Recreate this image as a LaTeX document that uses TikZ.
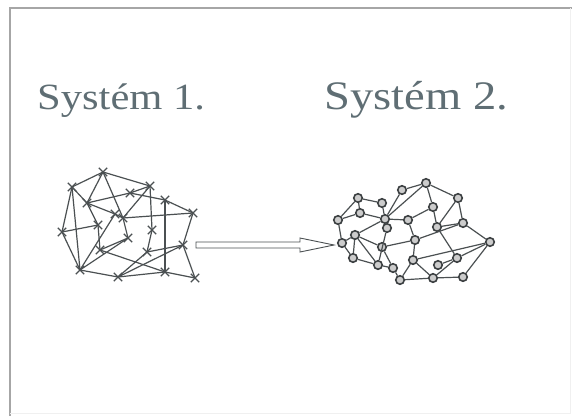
\documentclass[tikz,border=0pt]{standalone}
\usepackage{fontspec}
\usetikzlibrary{shapes.misc,calc}
\newfontfamily\titlefont[FakeStretch=1.15]{Liberation Serif}
\definecolor{titlegray}{RGB}{95,110,116}
\definecolor{linegray}{RGB}{75,80,82}
\tikzset{
  xnode/.style={cross out, draw=linegray, line width=1.3pt, minimum size=7pt, inner sep=0pt},
  onode/.style={circle, draw=linegray!80!black, fill=gray!40, line width=1.6pt, minimum size=8.5pt, inner sep=0pt},
  meshline/.style={linegray, line width=1.2pt},
  title/.style={anchor=base west, text=titlegray, inner sep=0pt}
}
\begin{document}
\begin{tikzpicture}[x=1pt,y=-1pt]
\useasboundingbox (0,0) rectangle (572,416);

\coordinate (tl) at (10,8);
\coordinate (tr) at (572,8);
\coordinate (bl) at (10,416);
\draw[gray!70, line width=1.2pt] (bl) -- (tl) -- (tr);
\draw[gray!12, line width=0.8pt] (10,413) -- (570,413) -- (570,8);

\node[title, font=\titlefont\fontsize{37}{40}\selectfont] (sys1) at (37,109.5) {Systém 1.};
\node[title, font=\titlefont\fontsize{40.5}{44}\selectfont] (sys2) at (324,109.5) {Systém 2.};

\node[xnode] (a1) at (103,172) {};
\node[xnode] (a2) at (72,187) {};
\node[xnode] (a3) at (87,203) {};
\node[xnode] (a4) at (130,193) {};
\node[xnode] (a5) at (150,186) {};
\node[xnode] (a6) at (165,200) {};
\node[xnode] (a7) at (193,213) {};
\node[xnode] (a8) at (115,214) {};
\node[xnode] (a9) at (123,218) {};
\node[xnode] (a10) at (98,225) {};
\node[xnode] (a11) at (62,232) {};
\node[xnode] (a12) at (152,230) {};
\node[xnode] (a13) at (128,238) {};
\node[xnode] (a14) at (183,245) {};
\node[xnode] (a15) at (100,250) {};
\node[xnode] (a16) at (147,252) {};
\node[xnode] (a17) at (80,270) {};
\node[xnode] (a18) at (118,277) {};
\node[xnode] (a19) at (165,272) {};
\node[xnode] (a20) at (195,278) {};

\foreach \u/\v in {a1/a2,a1/a5,a1/a3,a1/a9,a2/a3,a2/a11,a2/a17,a3/a4,a3/a8,a3/a10,
  a4/a5,a4/a6,a5/a9,a5/a12,a6/a7,a6/a19,a9/a7,a7/a14,a14/a20,a10/a11,
  a11/a17,a9/a13,a13/a17,a13/a15,a15/a19,a12/a16,a16/a18,a16/a14,a14/a18,
  a17/a18,a18/a19,a19/a20,a8/a17,a8/a9,a15/a10}
  \draw[meshline] (\u.center) -- (\v.center);

\node[onode] (b1) at (426,183) {};
\node[onode] (b2) at (402,190) {};
\node[onode] (b3) at (458,198) {};
\node[onode] (b4) at (358,198) {};
\node[onode] (b5) at (382,203) {};
\node[onode] (b6) at (433,207) {};
\node[onode] (b7) at (360,213) {};
\node[onode] (b8) at (408,220) {};
\node[onode] (b9) at (385,219) {};
\node[onode] (b10) at (387,228) {};
\node[onode] (b11) at (338,220) {};
\node[onode] (b12) at (463,223) {};
\node[onode] (b13) at (437,227) {};
\node[onode] (b14) at (355,235) {};
\node[onode] (b15) at (490,242) {};
\node[onode] (b16) at (415,240) {};
\node[onode] (b17) at (382,247) {};
\node[onode] (b18) at (342,243) {};
\node[onode] (b19) at (457,258) {};
\node[onode] (b20) at (413,260) {};
\node[onode] (b21) at (353,258) {};
\node[onode] (b22) at (378,265) {};
\node[onode] (b23) at (438,265) {};
\node[onode] (b24) at (393,268) {};
\node[onode] (b25) at (400,280) {};
\node[onode] (b26) at (433,278) {};
\node[onode] (b27) at (463,277) {};

\foreach \u/\v in {b4/b5,b4/b11,b4/b7,b9/b2,b2/b1,b1/b3,b1/b6,b1/b9,b3/b13,b3/b12,
  b6/b8,b6/b13,b8/b9,b8/b16,b5/b9,b7/b9,b7/b11,b11/b18,b14/b9,b14/b18,
  b14/b21,b14/b17,b14/b22,b18/b21,b21/b22,b17/b16,b16/b12,b13/b12,b13/b19,
  b12/b15,b15/b19,b15/b27,b15/b20,b16/b20,b20/b25,b20/b26,b26/b27,b25/b26,
  b25/b24,b24/b22,b24/b17,b26/b19,b10/b22,b9/b10,b23/b19}
  \draw[meshline] (\u) -- (\v);

\coordinate (arrowtail) at (196,245);
\coordinate (arrowtip) at (334,245);
\draw[linegray, line width=0.9pt, fill=white]
  ($(arrowtail)+(0,-3)$) -- ($(arrowtail)+(104,-3)$) -- ($(arrowtail)+(104,-7)$)
  -- (arrowtip) -- ($(arrowtail)+(104,7)$) -- ($(arrowtail)+(104,3)$)
  -- ($(arrowtail)+(0,3)$) -- cycle;
\end{tikzpicture}
\end{document}
